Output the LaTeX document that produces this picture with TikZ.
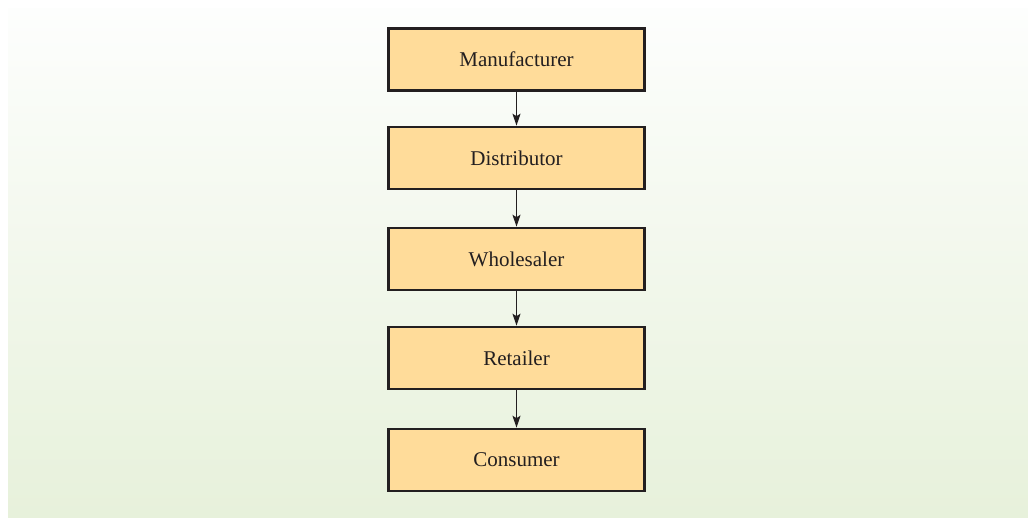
\documentclass[tikz,border=0pt]{standalone}
\usepackage{fontspec}
\setmainfont{Liberation Serif}
\usetikzlibrary{arrows.meta}
\definecolor{boxfill}{HTML}{FFDC9A}
\definecolor{boxline}{HTML}{231F20}
\definecolor{bgtop}{HTML}{FDFEFD}
\definecolor{bgbot}{HTML}{E7F1DB}
\tikzset{
  stagebox/.style={draw=boxline, fill=boxfill, line width=2.6pt, minimum width=256pt, minimum height=62pt, inner sep=0pt, font=\fontsize{21}{24}\selectfont, text=boxline},
  flow/.style={draw=boxline, line width=1.3pt, -{Stealth[length=12pt,width=8pt,inset=2.5pt]}}
}
\begin{document}
\begin{tikzpicture}[x=1pt,y=-1pt]
\useasboundingbox (0,0) rectangle (1028,517);
\shade[top color=bgtop, bottom color=bgbot] (8,8) rectangle (1028,517);
\node[stagebox] (m) at (516.5,59.5) {Manufacturer};
\node[stagebox] (d) at (516.5,158) {Distributor};
\node[stagebox] (w) at (516.5,259) {Wholesaler};
\node[stagebox] (r) at (516.5,358) {Retailer};
\node[stagebox] (c) at (516.5,460) {Consumer};
\draw[flow] (m) -- (d);
\draw[flow] (d) -- (w);
\draw[flow] (w) -- (r);
\draw[flow] (r) -- (c);
\end{tikzpicture}
\end{document}
